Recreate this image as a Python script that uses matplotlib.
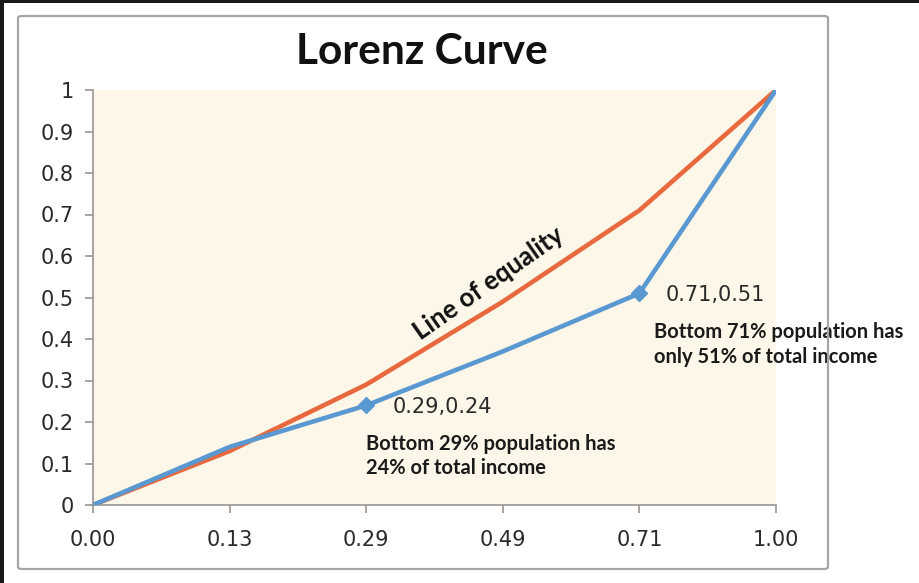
import matplotlib
matplotlib.use("Agg")
import matplotlib.pyplot as plt
from matplotlib.patches import FancyBboxPatch, Rectangle

categories = ["0.00", "0.13", "0.29", "0.49", "0.71", "1.00"]
equality = [0.0, 0.13, 0.29, 0.49, 0.71, 1.0]
lorenz = [0.0, 0.14, 0.24, 0.37, 0.51, 1.0]
yticks = [0, 0.1, 0.2, 0.3, 0.4, 0.5, 0.6, 0.7, 0.8, 0.9, 1]
ytick_labels = ["0", "0.1", "0.2", "0.3", "0.4", "0.5", "0.6", "0.7", "0.8", "0.9", "1"]
marked_idx = [2, 4]

W, H = 920, 583
fig = plt.figure(figsize=(W / 100, H / 100), dpi=100)
fig.patch.set_facecolor("white")

# outer frame (black) top and left
fig.add_artist(Rectangle((0, 1 - 3 / H), 1, 3 / H, transform=fig.transFigure,
                         facecolor="#1a1a1a", edgecolor="none"))
fig.add_artist(Rectangle((0, 0), 4 / W, 1, transform=fig.transFigure,
                         facecolor="#1a1a1a", edgecolor="none"))
# chart border
fig.add_artist(FancyBboxPatch((18 / W, 1 - 569 / H), (828 - 18) / W, (569 - 16) / H,
                              boxstyle="round,pad=0,rounding_size=0.004",
                              transform=fig.transFigure, facecolor="none",
                              edgecolor="#a9a5a2", linewidth=1.6))

left, right, top, bottom = 93, 776, 90, 505
ax = fig.add_axes([left / W, 1 - bottom / H, (right - left) / W, (bottom - top) / H])
ax.set_facecolor("#fcf7e8")

x = list(range(len(categories)))
ax.plot(x, equality, color="#e8693e", linewidth=3.3, solid_capstyle="round", zorder=3)
ax.plot(x, lorenz, color="#5a98d2", linewidth=3.3, solid_capstyle="round", zorder=4)
ax.plot([x[i] for i in marked_idx], [lorenz[i] for i in marked_idx], linestyle="none",
        marker="D", markersize=8, color="#5a98d2", zorder=5)

ax.set_xlim(0, len(categories) - 1)
ax.set_ylim(0, 1)
ax.set_xticks(x)
ax.set_xticklabels(categories)
ax.set_yticks(yticks)
ax.set_yticklabels(ytick_labels)
for s in ["top", "right"]:
    ax.spines[s].set_visible(False)
for s in ["left", "bottom"]:
    ax.spines[s].set_color("#9a9592")
    ax.spines[s].set_linewidth(1.2)
ax.tick_params(axis="both", colors="#9a9592", length=6, width=1.2, direction="out",
               labelcolor="#2a2a2a", labelsize=15)
ax.tick_params(axis="x", pad=12)
ax.tick_params(axis="y", pad=8)
for lab in ax.get_xticklabels() + ax.get_yticklabels():
    lab.set_fontfamily("DejaVu Sans")

fig.text(422 / W, 1 - 52 / H, "Lorenz Curve", ha="center", va="center",
         fontsize=30.5, fontfamily="Lato", fontweight="bold", color="#111111")

ax.text(2.9, 0.535, "Line of equality", rotation=35, rotation_mode="anchor",
        ha="center", va="center", fontsize=18.5, fontfamily="Lato", fontweight="bold",
        color="#111111")

for i in marked_idx:
    ax.text(i + 0.19, lorenz[i] - 0.005, f"{categories[i]},{lorenz[i]:.2f}",
            ha="left", va="center", fontsize=15, fontfamily="DejaVu Sans",
            color="#2a2a2a", clip_on=False)

ax.text(2.0, 0.172, "Bottom 29% population has\n24% of total income", ha="left", va="top",
        fontsize=14.5, fontfamily="Lato", fontweight="bold", color="#1a1a1a",
        linespacing=1.3, clip_on=False)
ax.text(4.11, 0.44, "Bottom 71% population has\nonly 51% of total income", ha="left", va="top",
        fontsize=14.5, fontfamily="Lato", fontweight="bold", color="#1a1a1a",
        linespacing=1.3, clip_on=False)

fig.savefig("out.png", dpi=100)
